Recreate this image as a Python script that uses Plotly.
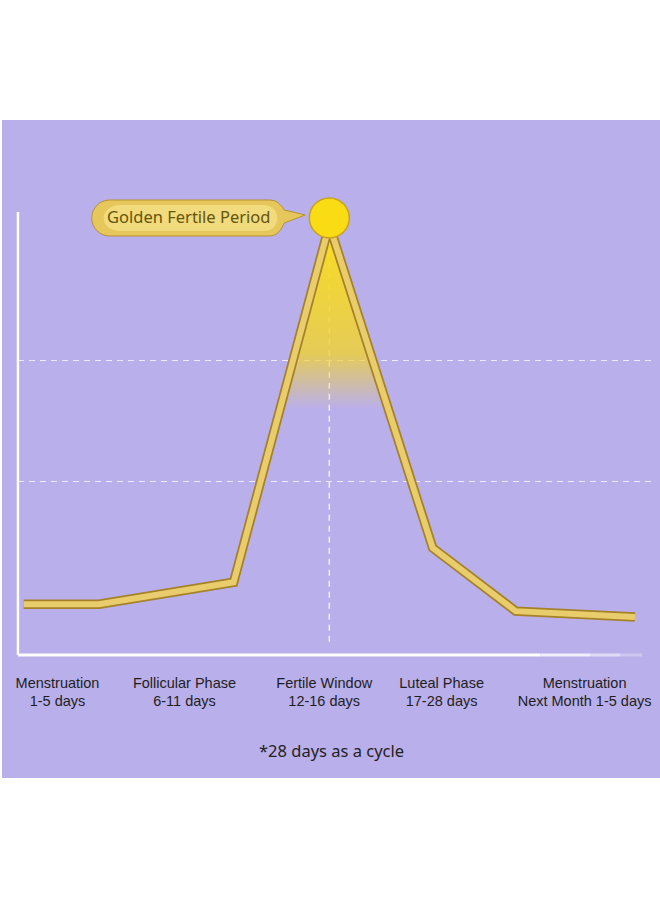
import numpy as np
import plotly.graph_objects as go

W, H = 660, 900

# curve (x: position across the cycle 0-100, y: relative level 0-10)
curve_x = [0.9, 12.7, 33.8, 48.8, 65.0, 78.0, 96.7]
curve_y = [0.95, 0.95, 1.36, 8.04, 2.0, 0.82, 0.71]
peak_idx = 3

phase_pos = [6.2, 26.1, 48.0, 66.4, 88.8]
phase_labels = [
    "Menstruation<br>1-5 days",
    "Follicular Phase<br>6-11 days",
    "Fertile Window<br>12-16 days",
    "Luteal Phase<br>17-28 days",
    "Menstruation<br>Next Month 1-5 days",
]
grid_levels = [3.25, 5.51]

callout_text = "Golden Fertile Period"
footnote = "*28 days as a cycle"

PURPLE = "#b9afea"
GOLD_DARK = "#a58227"
GOLD = "#e9cd6c"


def px(x):
    return x / W


def py(y):
    return 1 - y / H


def pill_path(pts):
    # pts: list of (cmd, [x, y, ...]) in pixels -> paper coords path string
    out = []
    for cmd, nums in pts:
        conv = []
        for i in range(0, len(nums), 2):
            conv.append(f"{px(nums[i]):.5f},{py(nums[i + 1]):.5f}")
        out.append(cmd + " " + " ".join(conv))
    return " ".join(out) + " Z"


fig = go.Figure()

# glow under the peak: triangle between the two sides of the spike, fading downward
cut = 4.6
xl = np.interp(cut, [curve_y[peak_idx - 1], curve_y[peak_idx]], [curve_x[peak_idx - 1], curve_x[peak_idx]])
xr = np.interp(cut, [curve_y[peak_idx + 1], curve_y[peak_idx]], [curve_x[peak_idx + 1], curve_x[peak_idx]])
fig.add_trace(go.Scatter(
    x=[xl, curve_x[peak_idx], xr, xl],
    y=[cut, curve_y[peak_idx], cut, cut],
    mode="lines", line=dict(width=0), fill="toself",
    fillgradient=dict(
        type="vertical",
        colorscale=[[0, "rgba(240,210,60,0)"], [0.3, "rgba(240,210,50,0.8)"],
                    [1, "rgba(250,222,30,1)"]],
    ),
    hoverinfo="skip",
))

# gold ribbon line: dark edge + light core
fig.add_trace(go.Scatter(x=curve_x, y=curve_y, mode="lines",
                         line=dict(color=GOLD_DARK, width=9.5), hoverinfo="skip"))
fig.add_trace(go.Scatter(x=curve_x, y=curve_y, mode="lines",
                         line=dict(color=GOLD, width=6), hoverinfo="skip"))

# sun marker at the peak
fig.add_trace(go.Scatter(
    x=[curve_x[peak_idx]], y=[curve_y[peak_idx] + 0.13], mode="markers",
    marker=dict(size=40, color="#f9dc14", line=dict(color="#c9a21c", width=1.5)),
    hoverinfo="skip",
))

shapes = [
    # purple panel
    dict(type="rect", xref="paper", yref="paper", x0=0, x1=1, y0=py(778), y1=py(120),
         fillcolor=PURPLE, line=dict(width=0), layer="below"),
    # vertical white axis
    dict(type="line", xref="paper", yref="paper", x0=px(16), x1=px(16), y0=py(212), y1=py(655),
         line=dict(color="white", width=2.5), layer="below"),
    # vertical dashed line through the peak
    dict(type="line", xref="x", yref="y", x0=curve_x[peak_idx], x1=curve_x[peak_idx],
         y0=0.25, y1=curve_y[peak_idx], layer="below",
         line=dict(color="rgba(255,255,255,0.8)", width=1.5, dash="6px,5px")),
]
# horizontal white axis fading out to the right
for a, b, op in [(16, 540, 1.0), (540, 590, 0.8), (590, 620, 0.55), (620, 642, 0.3)]:
    shapes.append(dict(type="line", xref="paper", yref="paper", x0=px(a), x1=px(b),
                       y0=py(655), y1=py(655), layer="below",
                       line=dict(color=f"rgba(255,255,255,{op})", width=3)))

# callout bubble
shapes.append(dict(
    type="path", xref="paper", yref="paper", layer="above",
    path=pill_path([
        ("M", [108, 200]), ("L", [268, 200]),
        ("C", [276, 200, 280, 205, 283, 210]), ("L", [304, 215]),
        ("L", [283, 223]), ("C", [280, 230, 276, 236, 268, 236]),
        ("L", [108, 236]), ("C", [98, 236, 90, 228, 90, 218]),
        ("C", [90, 208, 98, 200, 108, 200]),
    ]),
    fillcolor="#e6c75c", line=dict(color="#b8922c", width=1),
))
shapes.append(dict(
    type="path", xref="paper", yref="paper", layer="above",
    path=pill_path([
        ("M", [120, 205]), ("L", [262, 205]),
        ("C", [272, 205, 276, 212, 276, 218]), ("C", [276, 225, 272, 231, 262, 231]),
        ("L", [120, 231]), ("C", [108, 231, 102, 225, 102, 218]),
        ("C", [102, 211, 108, 205, 120, 205]),
    ]),
    fillcolor="rgba(248,232,145,0.6)", line=dict(width=0),
))

annotations = [
    dict(xref="paper", yref="paper", x=px(187), y=py(217), text=callout_text,
         xanchor="center", yanchor="middle",
         showarrow=False, font=dict(family="Noto Sans", size=16.5, color="#65540e")),
    dict(xref="paper", yref="paper", x=px(330), y=py(750), text=footnote,
         xanchor="center", yanchor="middle",
         showarrow=False, font=dict(family="Noto Sans", size=16.5, color="#222222")),
]

fig.update_layout(
    width=W, height=H,
    margin=dict(l=0, r=0, t=0, b=0),
    paper_bgcolor="white",
    plot_bgcolor="rgba(0,0,0,0)",
    showlegend=False,
    shapes=shapes,
    annotations=annotations,
    xaxis=dict(
        domain=[px(16), px(656)], range=[0, 100],
        showgrid=False, zeroline=False, showline=False, ticks="",
        tickvals=phase_pos, ticktext=phase_labels, ticklabelstandoff=17,
        tickfont=dict(family="Liberation Sans", size=14.5, color="#1e1e1e"),
        fixedrange=True,
    ),
    yaxis=dict(
        domain=[py(655), py(120)], range=[0, 10],
        tickvals=grid_levels, showticklabels=False, ticks="",
        showgrid=True, gridcolor="rgba(255,255,255,0.75)", gridwidth=1.3,
        griddash="6px,5px", zeroline=False, showline=False, fixedrange=True,
    ),
)

fig.write_html("out.html", config={"displayModeBar": False},
               post_script="document.body.style.margin='0';")
